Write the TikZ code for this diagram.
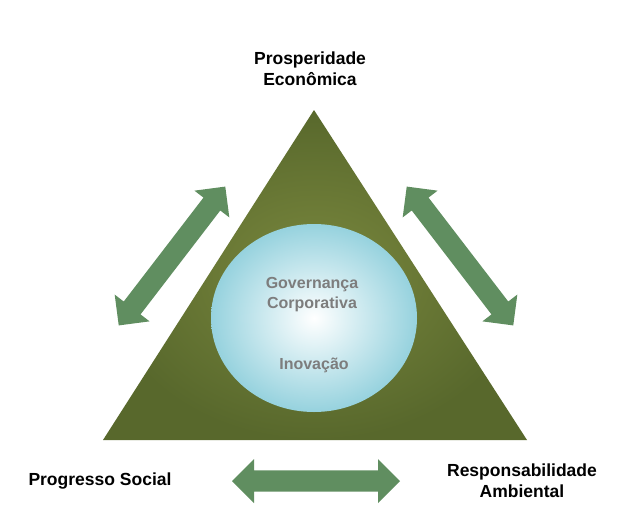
\documentclass[tikz,border=0pt]{standalone}
\usepackage{fontspec}
\setmainfont{Liberation Sans}
\usetikzlibrary{shapes.arrows,shapes.geometric}
\definecolor{grass}{RGB}{122,136,62}
\definecolor{grassd}{RGB}{88,104,44}
\definecolor{arr}{RGB}{96,142,96}
\definecolor{orbc}{RGB}{150,210,222}
\definecolor{txtg}{RGB}{125,125,125}
\tikzset{
  lbl/.style={font=\bfseries\fontsize{17.5}{21}\selectfont, align=center},
  inner/.style={font=\bfseries\fontsize{16}{20}\selectfont, text=txtg, align=center},
  dbl/.style={double arrow, fill=arr, draw=none, minimum width=44pt, double arrow head extend=11pt, inner sep=0pt, text width=0pt, text height=10pt, text depth=10pt},
}
\begin{document}
\begin{tikzpicture}[x=1pt,y=-1pt]
\useasboundingbox (0,0) rectangle (623,530);
\fill[fill=white] (0,0) rectangle (623,530);
\path[inner color=grass, outer color=grassd] (314,110) -- (527,440) -- (103,440) -- cycle;
\node[ellipse, minimum width=206pt, minimum height=188pt, inner color=white, outer color=orbc] (orb) at (314,318) {};
\node[inner] (gov) at (312,295) {Governança\\Corporativa};
\node[inner] (ino) at (314,365) {Inovação};
\node[lbl] (pe) at (310,69) {Prosperidade\\ Econômica};
\node[lbl] (ps) at (100,481) {Progresso Social};
\node[lbl] (ra) at (522,481) {Responsabilidade\\Ambiental};
\node[dbl, minimum height=175pt, rotate=52.5] (a1) at (172,256) {};
\node[dbl, minimum height=175pt, rotate=-52.5] (a2) at (460,256) {};
\node[dbl, minimum height=168pt] (a3) at (316,481) {};
\end{tikzpicture}
\end{document}
